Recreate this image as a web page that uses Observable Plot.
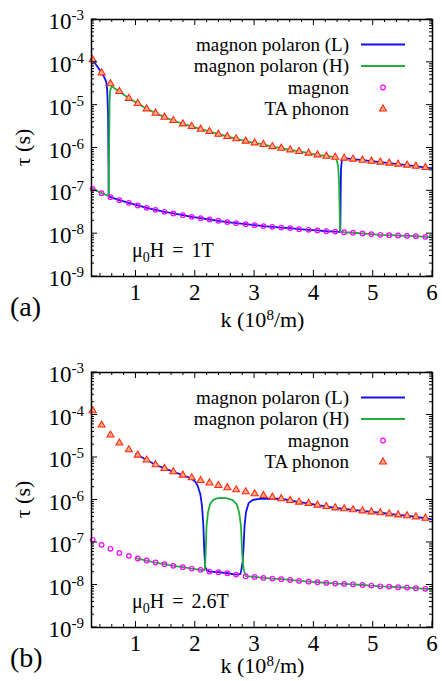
<!DOCTYPE html>
<html>
<head>
<meta charset="utf-8">
<script src="https://cdn.jsdelivr.net/npm/d3@7"></script>
<script src="https://cdn.jsdelivr.net/npm/@observablehq/plot@0.6"></script>
<style>
  html, body { margin: 0; padding: 0; background: #fff; }
  body { width: 442px; height: 681px; overflow: hidden; }
  svg { display: block; }
</style>
</head>
<body>
<div id="fig"></div>
<script>
// ---------- data ----------
// wave number k (10^8 /m) of the sampled symbols
const K_PTS = [0.27,0.42,0.57,0.72,0.88,1.03,1.18,1.33,1.48,1.63,1.79,1.94,2.09,2.24,2.39,2.54,2.69,2.85,3.00,3.15,
               3.30,3.45,3.60,3.75,3.91,4.06,4.21,4.36,4.51,4.66,4.82,4.97,5.12,5.27,5.42,5.57,5.72,5.88];

// panel (a)  mu0H = 1T   (tau in seconds)
const PHONON_A = [1.148e-4,5.69e-5,3.16e-5,2.09e-5,1.445e-5,1.096e-5,8.2e-6,6.5e-6,5.25e-6,4.39e-6,3.66e-6,3.18e-6,2.75e-6,
                  2.43e-6,2.10e-6,1.86e-6,1.64e-6,1.445e-6,1.32e-6,1.21e-6,1.08e-6,9.9e-7,9.06e-7,8.3e-7,7.6e-7,6.9e-7,
                  6.45e-7,6.1e-7,5.8e-7,5.5e-7,5.2e-7,4.93e-7,4.68e-7,4.43e-7,4.2e-7,3.98e-7,3.77e-7,3.5e-7];
const MAGNON_A = [1.114e-7,8.83e-8,7.11e-8,6.05e-8,5.25e-8,4.55e-8,4.01e-8,3.6e-8,3.24e-8,2.96e-8,2.7e-8,2.47e-8,2.3e-8,
                  2.14e-8,2.0e-8,1.86e-8,1.76e-8,1.67e-8,1.58e-8,1.5e-8,1.445e-8,1.39e-8,1.35e-8,1.27e-8,1.23e-8,1.19e-8,
                  1.14e-8,1.12e-8,1.08e-8,1.05e-8,1.01e-8,9.77e-9,9.4e-9,9.2e-9,9.06e-9,8.9e-9,8.75e-9,8.43e-9];
// polaron branch pieces [k, tau] where they leave the pure phonon / magnon curves
const L_A_START = [[0.25,1.17e-4]];
const L_A_DIP   = [[0.47,4.35e-5],[0.50,3.44e-5],[0.515,2.2e-5],[0.53,5.75e-6],[0.54,7.6e-8]];
const L_A_RISE  = [[4.445,1.1e-8],[4.452,1.0e-7],[4.457,3.16e-7],[4.47,4.9e-7],[4.49,5.5e-7]];
const L_A_END   = [[6.0,3.4e-7]];
const H_A_START = [[0.25,1.12e-7]];
const H_A_RISE  = [[0.54,7.6e-8],[0.548,1.58e-6],[0.555,1.26e-5],[0.565,2.19e-5],[0.585,2.66e-5],[0.61,2.66e-5],[0.65,2.4e-5]];
const H_A_DIP   = [[4.38,5.4e-7],[4.408,3.91e-7],[4.425,1.58e-7],[4.436,2.63e-8],[4.442,1.12e-8]];
const H_A_END   = [[6.0,8.1e-9]];

// panel (b)  mu0H = 2.6T
const PHONON_B = [1.265e-4,5.81e-5,3.38e-5,2.19e-5,1.52e-5,1.14e-5,8.71e-6,6.76e-6,5.53e-6,4.62e-6,3.85e-6,3.33e-6,2.88e-6,
                  2.51e-6,2.2e-6,1.95e-6,1.74e-6,1.56e-6,1.4e-6,1.28e-6,1.17e-6,1.07e-6,9.77e-7,8.91e-7,8.32e-7,7.59e-7,
                  7.05e-7,6.55e-7,6.21e-7,5.89e-7,5.56e-7,5.27e-7,5.01e-7,4.73e-7,4.47e-7,4.27e-7,4.02e-7,3.72e-7];
const MAGNON_B = [1.156e-7,8.81e-8,7.1e-8,5.7e-8,4.85e-8,4.2e-8,3.77e-8,3.38e-8,3.09e-8,2.82e-8,2.63e-8,2.44e-8,2.27e-8,
                  2.07e-8,2.0e-8,1.89e-8,1.76e-8,1.61e-8,1.55e-8,1.47e-8,1.42e-8,1.37e-8,1.32e-8,1.25e-8,1.2e-8,1.16e-8,
                  1.12e-8,1.08e-8,1.06e-8,1.04e-8,1.0e-8,9.7e-9,9.33e-9,9.18e-9,8.85e-9,8.71e-9,8.4e-9,8.13e-9];
const L_B_START = [[1.0,1.21e-5]];
const L_B_DIP   = [[1.94,3.16e-6],[2.0,2.69e-6],[2.04,2.16e-6],[2.085,1.37e-6],[2.113,7.3e-7],[2.136,2.47e-7],
                   [2.153,5.8e-8],[2.169,2.57e-8],[2.2,2.2e-8]];
const L_B_RISE  = [[2.76,1.8e-8],[2.775,2.2e-8],[2.798,3.39e-8],[2.815,8.3e-8],[2.831,2.47e-7],[2.854,5.08e-7],
                   [2.899,8.43e-7],[2.966,1.0e-6],[3.08,1.06e-6],[3.2,1.08e-6]];
const L_B_END   = [[6.0,3.48e-7]];
const H_B_START = [[1.0,4.37e-8]];
const H_B_BUMP  = [[2.152,2.2e-8],[2.164,2.57e-8],[2.175,5.8e-8],[2.19,2.47e-7],[2.214,5.08e-7],[2.248,8.0e-7],
                   [2.304,1.01e-6],[2.377,1.107e-6],[2.461,1.127e-6],[2.545,1.086e-6],[2.63,9.93e-7],[2.697,8.0e-7],
                   [2.74,5.08e-7],[2.77,2.47e-7],[2.79,5.8e-8],[2.815,2.35e-8],[2.85,1.62e-8]];
const H_B_END   = [[6.0,7.94e-9]];

// axes / labels
const X_DOMAIN = [0.25, 6];
const Y_DOMAIN = [1e-9, 1e-3];
const X_MAJOR = [1, 2, 3, 4, 5, 6];
const X_MINOR = [0.4,0.6,0.8,1.2,1.4,1.6,1.8,2.2,2.4,2.6,2.8,3.2,3.4,3.6,3.8,4.2,4.4,4.6,4.8,5.2,5.4,5.6,5.8];
const Y_EXPONENTS = [-9, -8, -7, -6, -5, -4, -3];
const Y_MINOR_MANTISSA = [2, 3, 4, 5, 6, 7, 8, 9];
const LEGEND_LABELS = ["magnon polaron (L)", "magnon polaron (H)", "magnon", "TA phonon"];
const X_LABEL = ["k (10", "8", "/m)"];
const Y_LABEL = "τ (s)";

// ---------- styling ----------
const BLUE = "#1010f0", GREEN = "#1fae3c", MAGENTA = "#ff00ff", RED = "#ff2a0a", RED_FILL = "#ffab90";
const FONT = "'Liberation Serif', 'Times New Roman', serif";
const LINE_W = 1.8;

// ---------- build tables ----------
const pts = (ks, ts, from, to) => ks.slice(from, to + 1).map((k, i) => ({k, tau: ts[from + i]}));
const pairs = arr => arr.map(([k, tau]) => ({k, tau}));

const symA = {magnon: pts(K_PTS, MAGNON_A, 0, 37), phonon: pts(K_PTS, PHONON_A, 0, 37)};
const lineLA = [...pairs(L_A_START), ...pts(K_PTS, PHONON_A, 0, 1), ...pairs(L_A_DIP), ...pts(K_PTS, MAGNON_A, 2, 27),
                ...pairs(L_A_RISE), ...pts(K_PTS, PHONON_A, 28, 37), ...pairs(L_A_END)];
const lineHA = [...pairs(H_A_START), ...pts(K_PTS, MAGNON_A, 0, 1), ...pairs(H_A_RISE), ...pts(K_PTS, PHONON_A, 3, 27),
                ...pairs(H_A_DIP), ...pts(K_PTS, MAGNON_A, 28, 37), ...pairs(H_A_END)];

const symB = {magnon: pts(K_PTS, MAGNON_B, 0, 37), phonon: pts(K_PTS, PHONON_B, 0, 37)};
const lineLB = [...pairs(L_B_START), ...pts(K_PTS, PHONON_B, 5, 10), ...pairs(L_B_DIP), ...pts(K_PTS, MAGNON_B, 13, 16),
                ...pairs(L_B_RISE), ...pts(K_PTS, PHONON_B, 21, 37), ...pairs(L_B_END)];
const lineHB = [...pairs(H_B_START), ...pts(K_PTS, MAGNON_B, 5, 12), ...pairs(H_B_BUMP), ...pts(K_PTS, MAGNON_B, 18, 37),
                ...pairs(H_B_END)];

function panel(cfg) {
  const chart = Plot.plot({
    width: 442, height: cfg.height,
    marginLeft: 91, marginRight: 10, marginTop: cfg.marginTop, marginBottom: cfg.marginBottom,
    x: {domain: X_DOMAIN, axis: null},
    y: {type: "log", domain: Y_DOMAIN, axis: null},
    style: {background: "white", overflow: "visible", fontFamily: FONT},
    marks: [
      Plot.line(cfg.L, {x: "k", y: "tau", stroke: BLUE, strokeWidth: LINE_W, clip: true}),
      Plot.line(cfg.H, {x: "k", y: "tau", stroke: GREEN, strokeWidth: LINE_W, clip: true}),
      Plot.dot(cfg.sym.magnon, {x: "k", y: "tau", r: 2.3, stroke: MAGENTA, strokeWidth: 1.2, fill: "none"}),
      Plot.dot(cfg.sym.phonon, {x: "k", y: "tau", symbol: "triangle", r: 2.6, stroke: RED, strokeWidth: 1.1, fill: RED_FILL}),
      Plot.frame({stroke: "black", strokeWidth: 1.5})
    ]
  });
  const svg = d3.select(chart);
  const sx = chart.scale("x"), sy = chart.scale("y");
  const X = v => sx.apply(v), Y = v => sy.apply(v);
  const left = X(X_DOMAIN[0]), right = X(X_DOMAIN[1]);
  const top = Y(Y_DOMAIN[1]), bottom = Y(Y_DOMAIN[0]);

  // inward ticks on all four sides
  const tk = svg.append("g").attr("stroke", "black").attr("stroke-width", 1);
  const hline = (x1, x2, y) => tk.append("line").attr("x1", x1).attr("x2", x2).attr("y1", y).attr("y2", y);
  const vline = (x, y1, y2) => tk.append("line").attr("x1", x).attr("x2", x).attr("y1", y1).attr("y2", y2);
  Y_EXPONENTS.forEach(e => { const y = Y(10 ** e); hline(left, left + 6, y); hline(right, right - 6, y); });
  Y_EXPONENTS.slice(0, -1).forEach(e => Y_MINOR_MANTISSA.forEach(m => {
    const y = Y(m * 10 ** e); hline(left, left + 3, y); hline(right, right - 3, y);
  }));
  X_MAJOR.forEach(v => { const x = X(v); vline(x, bottom, bottom - 6); vline(x, top, top + 6); });
  X_MINOR.forEach(v => { const x = X(v); vline(x, bottom, bottom - 3); vline(x, top, top + 3); });

  const g = svg.append("g").attr("font-family", FONT).attr("fill", "black").attr("text-anchor", "start");
  // y tick labels 10^e
  Y_EXPONENTS.forEach(e => {
    const t = g.append("text").attr("x", left - 7).attr("y", Y(10 ** e) + 10)
      .attr("text-anchor", "end").attr("font-size", 23);
    t.append("tspan").text("10");
    t.append("tspan").attr("font-size", 15).attr("dy", -9).text(String(e));
  });
  // x tick labels
  X_MAJOR.forEach(v => {
    g.append("text").attr("x", X(v)).attr("y", bottom + 24).attr("text-anchor", "middle")
      .attr("font-size", 23).text(String(v));
  });
  // x label
  const xl = g.append("text").attr("x", (left + right) / 2 + 1).attr("y", bottom + cfg.xLabelGap)
    .attr("text-anchor", "middle").attr("font-size", 22);
  xl.append("tspan").text(X_LABEL[0]);
  xl.append("tspan").attr("font-size", 15).attr("dy", -7).text(X_LABEL[1]);
  xl.append("tspan").attr("dy", 7).text(X_LABEL[2]);
  // y label
  g.append("text").attr("transform", `translate(30,${(top + bottom) / 2}) rotate(-90)`)
    .attr("text-anchor", "middle").attr("font-size", 22).text(Y_LABEL);

  // legend
  const rows = [25.5, 47, 68.5, 90];
  LEGEND_LABELS.forEach((lab, i) => {
    g.append("text").attr("x", right - 83).attr("y", top + rows[i]).attr("dy", "0.33em")
      .attr("text-anchor", "end").attr("font-size", 19).text(lab);
  });
  [BLUE, GREEN].forEach((c, i) => {
    svg.append("line").attr("x1", right - 71).attr("x2", right - 27).attr("y1", top + rows[i]).attr("y2", top + rows[i])
      .attr("stroke", c).attr("stroke-width", LINE_W);
  });
  svg.append("circle").attr("cx", right - 49).attr("cy", top + rows[2]).attr("r", 2.3)
    .attr("fill", "none").attr("stroke", MAGENTA).attr("stroke-width", 1.2);
  svg.append("path").attr("transform", `translate(${right - 49},${top + rows[3]})`)
    .attr("d", d3.symbol(d3.symbolTriangle, Math.PI * 2.6 * 2.6)())
    .attr("fill", RED_FILL).attr("stroke", RED).attr("stroke-width", 1.1);

  // field annotation
  const f = g.append("text").attr("x", left + 41).attr("y", bottom - 19).attr("text-anchor", "start")
    .attr("font-size", 20).attr("word-spacing", 3);
  f.append("tspan").text("μ");
  f.append("tspan").attr("font-size", 14).attr("dy", 5).text("0");
  f.append("tspan").attr("dy", -5).text("H = " + cfg.field);

  // panel tag
  g.append("text").attr("x", 10).attr("y", bottom + 40).attr("text-anchor", "start").attr("font-size", 28).text(cfg.tag);

  return chart;
}

const fig = document.getElementById("fig");
fig.append(panel({L: lineLA, H: lineHA, sym: symA, field: "1T", tag: "(a)",
                  height: 340, marginTop: 19, marginBottom: 64, xLabelGap: 50.5}));
fig.append(panel({L: lineLB, H: lineHB, sym: symB, field: "2.6T", tag: "(b)",
                  height: 341, marginTop: 32, marginBottom: 54, xLabelGap: 46}));
</script>
</body>
</html>
